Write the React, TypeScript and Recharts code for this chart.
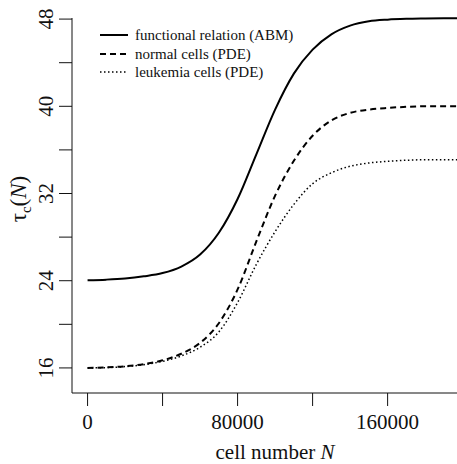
import { LineChart, Line, XAxis, YAxis } from "recharts";

const cellNumbers = [0, 10000, 20000, 30000, 40000, 50000, 60000, 70000, 80000, 90000, 100000, 110000, 120000, 130000, 140000, 150000, 160000, 170000, 180000, 190000, 197000];
const abmValues = [24.05, 24.1, 24.2, 24.4, 24.7, 25.3, 26.4, 28.4, 31.5, 35.6, 39.7, 43.0, 45.2, 46.6, 47.4, 47.8, 47.95, 48.02, 48.05, 48.07, 48.08];
const normalValues = [16.0, 16.05, 16.15, 16.35, 16.7, 17.3, 18.3, 20.1, 23.2, 27.6, 31.8, 35.0, 37.3, 38.7, 39.4, 39.7, 39.85, 39.95, 40.0, 40.0, 40.0];
const leukemiaValues = [16.0, 16.03, 16.12, 16.3, 16.6, 17.1, 17.9, 19.3, 22.0, 25.5, 28.5, 31.0, 32.9, 33.9, 34.5, 34.8, 34.95, 35.05, 35.1, 35.1, 35.1];

const xTicks = [0, 40000, 80000, 120000, 160000];
const yTicks = [16, 20, 24, 28, 32, 36, 40, 44, 48];

const legendItems = [
  { label: "functional relation (ABM)", dash: undefined, width: 2 },
  { label: "normal cells (PDE)", dash: "6 4", width: 2 },
  { label: "leukemia cells (PDE)", dash: "1.5 2.5", width: 1.5 },
];

const data = cellNumbers.map((n, i) => ({
  n,
  abm: abmValues[i],
  normal: normalValues[i],
  leukemia: leukemiaValues[i],
}));

const FONT = "'Liberation Serif', 'Times New Roman', serif";

const YTick = (props: any) => {
  const { x, y, payload } = props;
  if (payload.value % 8 !== 0) return null;
  return (
    <text x={x} y={y} transform={`rotate(-90 ${x} ${y})`} textAnchor="middle" fontSize={21} fontFamily={FONT} fill="#111">
      {payload.value}
    </text>
  );
};

const XTick = (props: any) => {
  const { x, y, payload } = props;
  if (payload.value % 80000 !== 0) return null;
  return (
    <text x={x} y={y} dy={21} textAnchor="middle" fontSize={21} fontFamily={FONT} fill="#111">
      {payload.value}
    </text>
  );
};

const LegendBox = () => (
  <div style={{ position: "absolute", left: 100, top: 26, fontFamily: FONT, fontSize: 15, color: "#111", lineHeight: "18.5px" }}>
    {legendItems.map((it) => (
      <div key={it.label} style={{ display: "flex", alignItems: "center" }}>
        <svg width={35} height={10}>
          <line x1={0} y1={5} x2={28} y2={5} stroke="#000" strokeWidth={it.width} strokeDasharray={it.dash} />
        </svg>
        <span>{it.label}</span>
      </div>
    ))}
  </div>
);

export default function App() {
  return (
    <div style={{ position: "absolute", left: 0, top: 0, width: 457, height: 464, background: "#fff" }}>
      <LineChart width={457} height={464} data={data} margin={{ top: 18, right: 0, left: 0, bottom: 0 }}>
        <XAxis
          dataKey="n"
          type="number"
          domain={[-8300, 197000]}
          ticks={xTicks}
          tick={<XTick />}
          tickSize={13}
          height={71}
          stroke="#111"
          allowDataOverflow
          label={{ value: "cell number N", content: () => (
            <text x={275} y={459} textAnchor="middle" fontSize={21} fontFamily={FONT} fill="#111">
              cell number <tspan fontStyle="italic">N</tspan>
            </text>
          ) }}
        />
        <YAxis
          type="number"
          domain={[13.7, 48.1]}
          ticks={yTicks}
          tick={<YTick />}
          tickSize={13}
          tickMargin={6}
          width={72}
          stroke="#111"
          label={{ value: "tau", content: () => (
            <text x={26} y={199} transform="rotate(-90 26 199)" textAnchor="middle" fontSize={23} fontFamily={FONT} fill="#111">
              τ<tspan fontSize={15} dy={5}>c</tspan><tspan dy={-5}>(</tspan><tspan fontStyle="italic">N</tspan>)
            </text>
          ) }}
        />
        <Line dataKey="abm" stroke="#000" strokeWidth={2} dot={false} isAnimationActive={false} type="monotone" />
        <Line dataKey="normal" stroke="#000" strokeWidth={2} strokeDasharray="6 4" dot={false} isAnimationActive={false} type="monotone" />
        <Line dataKey="leukemia" stroke="#000" strokeWidth={1.5} strokeDasharray="1.5 2.5" dot={false} isAnimationActive={false} type="monotone" />
      </LineChart>
      <LegendBox />
    </div>
  );
}
